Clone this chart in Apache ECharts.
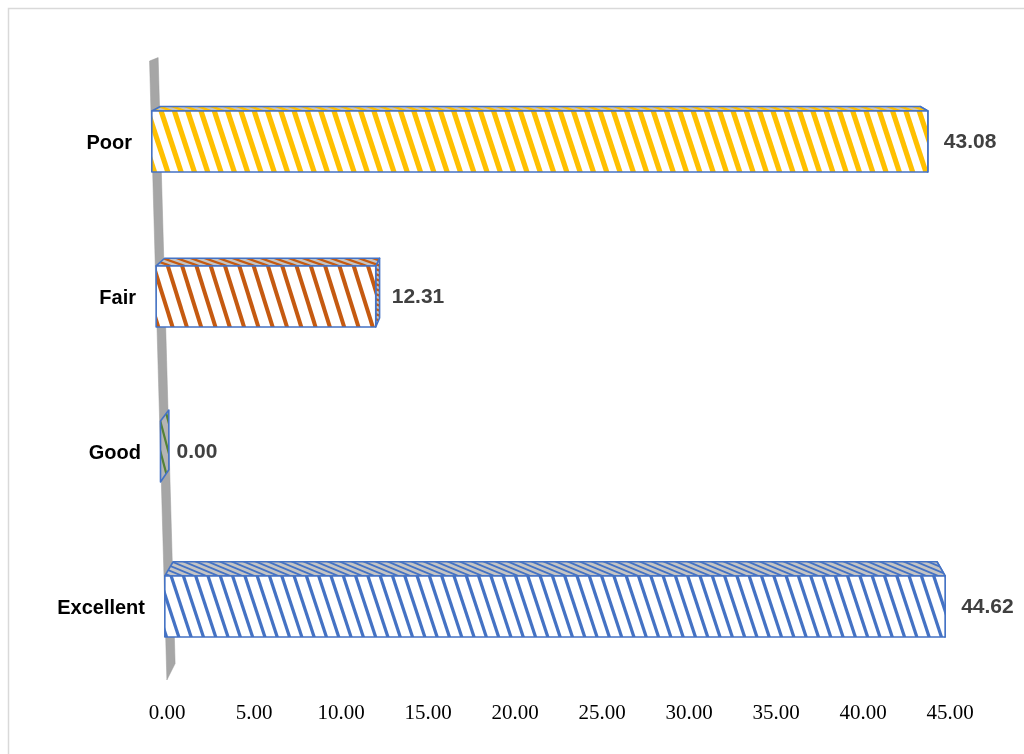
<!DOCTYPE html>
<html>
<head>
<meta charset="utf-8">
<script src="https://cdn.jsdelivr.net/npm/echarts@6/dist/echarts.min.js"></script>
<style>
  html, body { margin: 0; padding: 0; background: #ffffff; }
  #chart { width: 1024px; height: 754px; }
</style>
</head>
<body>
<div id="chart"></div>
<script>
// Rating categories, bottom to top, and their percentages
const categories = ['Excellent', 'Good', 'Fair', 'Poor'];
const percentages = [44.62, 0.00, 12.31, 43.08];
// Value axis range
const axisMin = 0;
const axisMax = 45;
const axisStep = 5;

// Hatch colours for each category
const hatchColors = ['#4472C4', '#548235', '#C55A11', '#FFC000'];
const outlineColor = '#4472C4';
// Front-face stripe geometry: period, stripe thickness, slant over the bar height (px)
const stripeStyle = [
  { period: 12.3, thick: 3.4, slant: 20 },
  { period: 12, thick: 2.5, slant: 20 },
  { period: 14.3, thick: 4.2, slant: 19 },
  { period: 13.3, thick: 5.4, slant: 20 }
];

// Plot area
const GRID = { left: 167, right: 74, top: 64, bottom: 70 };
const CHART_W = 1024, CHART_H = 754;

// Small repeating hatch tile used on the thin top / side faces
function hatchTile(color, bg, w, h, lw) {
  const c = document.createElement('canvas');
  c.width = w; c.height = h;
  const g = c.getContext('2d');
  g.fillStyle = bg;
  g.fillRect(0, 0, w, h);
  g.strokeStyle = color;
  g.lineWidth = lw;
  for (let k = -2; k <= 2; k++) {
    g.beginPath();
    g.moveTo(k * w - w, -h);
    g.lineTo(k * w + 2 * w, 2 * h);
    g.stroke();
  }
  return c;
}
const sideHatch = [
  hatchTile(hatchColors[0], '#c4c4c4', 12, 5, 1.8),
  hatchTile(hatchColors[1], '#b4b4b4', 8, 30, 2.2),
  hatchTile(hatchColors[2], '#c4c4c4', 14, 5, 2.2),
  hatchTile(hatchColors[3], '#c4c4c4', 13, 5, 2.4)
];

// Clip a polygon against a vertical line, keeping one side
function clipAtX(pts, xb, keepRight) {
  const out = [];
  for (let i = 0; i < pts.length; i++) {
    const a = pts[i], b = pts[(i + 1) % pts.length];
    const ina = keepRight ? a[0] >= xb : a[0] <= xb;
    const inb = keepRight ? b[0] >= xb : b[0] <= xb;
    if (ina) out.push(a);
    if (ina !== inb) {
      const t = (xb - a[0]) / (b[0] - a[0]);
      out.push([xb, a[1] + t * (b[1] - a[1])]);
    }
  }
  return out;
}

// Diagonal stripes filling the rectangle [x0,x1] x [y0,y1]
function stripes(x0, x1, y0, y1, st, color) {
  const els = [];
  for (let a = x0 - st.slant - st.period; a < x1; a += st.period) {
    let poly = [[a, y0], [a + st.thick, y0], [a + st.thick + st.slant, y1], [a + st.slant, y1]];
    poly = clipAtX(poly, x0, true);
    if (poly.length < 3) continue;
    poly = clipAtX(poly, x1, false);
    if (poly.length < 3) continue;
    els.push({ type: 'polygon', shape: { points: poly }, style: { fill: color } });
  }
  return els;
}

// Perspective settings for the pseudo-3D view
const PERSP_K = 0.000065;   // horizontal widening per pixel above the floor
const DEPTH = 0.021;        // box depth toward the vanishing point

function view(coordSys) {
  const cx = coordSys.x + coordSys.width * 0.55;
  const baseY = coordSys.y + coordSys.height;
  const vx = coordSys.x + coordSys.width * 0.5;
  const vy = coordSys.y - 165;
  return {
    project(x, y, refY) {
      const f = 1 + PERSP_K * (baseY - (refY === undefined ? y : refY));
      return [cx + (x - cx) * f, y];
    },
    back(p) {
      return [p[0] + DEPTH * (vx - p[0]), p[1] + DEPTH * (vy - p[1])];
    }
  };
}

// Horizontal shift of the wall edge at each category row (keeps labels beside the slanted wall)
const plotRect = {
  x: GRID.left, y: GRID.top,
  width: CHART_W - GRID.left - GRID.right,
  height: CHART_H - GRID.top - GRID.bottom
};
function rowShift(i) {
  const v = view(plotRect);
  const band = plotRect.height / categories.length;
  const yc = plotRect.y + plotRect.height - band * (i + 0.5);
  const yRef = plotRect.y + plotRect.height - band * 0.5;
  return v.project(plotRect.x, yRef)[0] - v.project(plotRect.x, yc)[0];
}
const labelRich = {};
categories.forEach((c, i) => {
  labelRich['r' + i] = {
    fontFamily: 'Liberation Sans',
    fontWeight: 'bold',
    fontSize: 20,
    color: '#000000',
    padding: [4, Math.round(rowShift(i)), 0, 0]
  };
});

function renderWall(params, api) {
  const cs = params.coordSys;
  const v = view(cs);
  const x0 = api.coord([axisMin, 0])[0];
  const top = v.project(x0, cs.y - 3);
  const bot = v.project(x0, cs.y + cs.height - 4);
  return {
    type: 'polygon',
    shape: { points: [top, bot, v.back(bot), v.back(top)] },
    style: { fill: '#a6a6a6', stroke: '#9a9a9a', lineWidth: 0.5 }
  };
}

function renderBar(params, api) {
  const cs = params.coordSys;
  const v = view(cs);
  const val = api.value(0);
  const idx = api.value(1);
  const c0 = api.coord([axisMin, idx]);
  const c1 = api.coord([val, idx]);
  const hh = api.size([0, 1])[1] * 0.197;
  const yc = c0[1];
  const fl = v.project(c0[0], yc - hh, yc);
  const fr = v.project(c1[0], yc - hh, yc);
  const br = v.project(c1[0], yc + hh, yc);
  const bl = v.project(c0[0], yc + hh, yc);
  const stroke = { stroke: outlineColor, lineWidth: 1.6, lineJoin: 'round' };
  const children = [];
  // right face
  children.push({
    type: 'polygon',
    shape: { points: [fr, br, v.back(br), v.back(fr)] },
    style: Object.assign({ fill: { image: sideHatch[idx], repeat: 'repeat' } }, stroke)
  });
  if (val > 0) {
    // top face
    children.push({
      type: 'polygon',
      shape: { points: [fl, fr, v.back(fr), v.back(fl)] },
      style: Object.assign({ fill: { image: sideHatch[idx], repeat: 'repeat' } }, stroke)
    });
    // front face: white ground, hatch, outline
    children.push({
      type: 'polygon',
      shape: { points: [fl, fr, br, bl] },
      style: { fill: '#ffffff' }
    });
    stripes(fl[0], fr[0], fl[1], bl[1], stripeStyle[idx], hatchColors[idx])
      .forEach((s) => children.push(s));
    children.push({
      type: 'polygon',
      shape: { points: [fl, fr, br, bl] },
      style: Object.assign({ fill: 'none' }, stroke)
    });
  }
  // value label
  children.push({
    type: 'text',
    style: {
      text: val.toFixed(2),
      x: fr[0] + 16,
      y: yc + 1,
      align: 'left',
      verticalAlign: 'middle',
      fill: '#404040',
      fontSize: 21,
      fontWeight: 'bold',
      fontFamily: 'Liberation Sans'
    }
  });
  return { type: 'group', children };
}

const chart = echarts.init(document.getElementById('chart'));
chart.setOption({
  animation: false,
  backgroundColor: '#ffffff',
  graphic: [{
    type: 'rect',
    shape: { x: 8.5, y: 8.5, width: 1100, height: 800 },
    style: { fill: 'none', stroke: '#d9d9d9', lineWidth: 1.5 },
    silent: true
  }],
  grid: GRID,
  xAxis: {
    type: 'value',
    min: axisMin,
    max: axisMax,
    interval: axisStep,
    axisLine: { show: false },
    axisTick: { show: false },
    splitLine: { show: false },
    axisLabel: {
      formatter: (x) => x.toFixed(2),
      fontFamily: 'Liberation Serif',
      fontSize: 21,
      color: '#000000',
      margin: 19
    }
  },
  yAxis: {
    type: 'category',
    data: categories,
    axisLine: { show: false },
    axisTick: { show: false },
    splitLine: { show: false },
    axisLabel: {
      formatter: (name, i) => '{r' + i + '|' + name + '}',
      rich: labelRich,
      margin: 22
    }
  },
  series: [
    {
      type: 'custom',
      renderItem: renderWall,
      data: [[axisMin, 0]],
      encode: { x: 0, y: 1 },
      clip: false,
      silent: true,
      z: 1
    },
    {
      type: 'custom',
      renderItem: renderBar,
      data: percentages.map((p, i) => [p, i]),
      encode: { x: 0, y: 1 },
      clip: false,
      z: 2
    }
  ]
});
</script>
</body>
</html>
